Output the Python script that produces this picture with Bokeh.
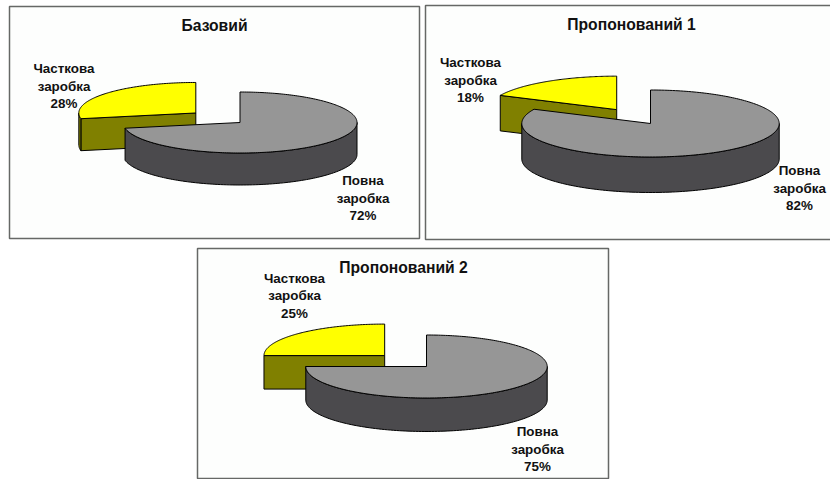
import numpy as np
from bokeh.core.properties import value
from bokeh.embed import file_html
from bokeh.models import Range1d
from bokeh.plotting import figure
from bokeh.resources import INLINE

# Share of full-time and part-time pay in each scenario, percent
titles = ["Базовий", "Пропонований 1", "Пропонований 2"]
full_pay = [72, 82, 75]
part_pay = [28, 18, 25]
full_label = ["Повна", "заробка"]
part_label = ["Часткова", "заробка"]

# Page layout of each panel, in screen pixels
panels = [
    dict(box=(9, 6, 419, 238), c=(239.5, 122), rx=117, ry=30.5, depth=32,
         title=(214, 25), part=(63.5, 68), full=(362.5, 180)),
    dict(box=(425, 5, 831, 239), c=(650, 123), rx=128.7, ry=33.5, depth=35.5,
         title=(631, 24), part=(470, 62), full=(799, 170)),
    dict(box=(197, 248, 608, 478), c=(426, 366), rx=120.7, ry=31.5, depth=33.5,
         title=(403, 266.5), part=(294, 277.5), full=(537, 431)),
]
EXPLODE = 0.49
TOP_FULL, WALL_FULL = "#969696", "#4b4a4d"
TOP_PART, WALL_PART = "#ffff00", "#808000"
TEXT_FONT = value("Liberation Sans")

p = figure(width=830, height=479, output_backend="svg", toolbar_location=None,
           x_range=Range1d(0, 830), y_range=Range1d(479, 0),
           min_border=0, outline_line_color=None, background_fill_color="white",
           border_fill_color="white")
p.axis.visible = False
p.grid.visible = False


def arc(cx, cy, rx, ry, a, b, n=120):
    """Ellipse points between two clockwise angles measured from 12 o'clock, in degrees."""
    t = np.radians(np.linspace(a, b, n))
    return cx + rx * np.sin(t), cy - ry * np.cos(t)


def draw_lines(x, y, lines, size):
    for i, line in enumerate(lines):
        p.text([x], [y + i * 17.6], text=[line], text_align="center", text_baseline="middle",
               text_font=TEXT_FONT, text_font_size=size, text_font_style="bold", text_color="#111111")


def draw_pie(panel, title, full, part):
    x0, y0, x1, y1 = panel["box"]
    p.patch([x0, x1, x1, x0], [y0, y0, y1, y1], fill_color="#fdfefd",
            line_color="#666866", line_width=1.5)

    cx, cy = panel["c"]
    rx, ry, depth = panel["rx"], panel["ry"], panel["depth"]
    split = 360 * full / (full + part)
    mid = np.radians((split + 360) / 2)
    px = cx + EXPLODE * rx * np.sin(mid)
    py = cy - EXPLODE * ry * np.cos(mid)

    # Detached slice: cut face, outer wall, then its top
    ex, ey = arc(px, py, rx, ry, split, split, 1)
    p.patch([ex[0], px, px, ex[0]], [ey[0], py, py + depth, ey[0] + depth],
            fill_color=WALL_PART, line_color="black", line_width=1)
    if split < 270:
        wx, wy = arc(px, py, rx, ry, split, 270, 20)
        p.patch(np.r_[wx, wx[::-1]], np.r_[wy, wy[::-1] + depth],
                fill_color=WALL_PART, line_color="black", line_width=1)
    ax, ay = arc(px, py, rx, ry, split, 360)
    p.patch(np.r_[px, ax], np.r_[py, ay], fill_color=TOP_PART, line_color="black", line_width=1)

    # Main slice: outer wall below its top
    wx, wy = arc(cx, cy, rx, ry, 90, min(split, 270))
    p.patch(np.r_[wx, wx[::-1]], np.r_[wy, wy[::-1] + depth],
            fill_color=WALL_FULL, line_color="black", line_width=1)
    ax, ay = arc(cx, cy, rx, ry, 0, split, 240)
    p.patch(np.r_[cx, ax], np.r_[cy, ay], fill_color=TOP_FULL, line_color="black", line_width=1)

    tx, ty = panel["title"]
    draw_lines(tx, ty, [title], "15.7px")
    lx, ly = panel["part"]
    draw_lines(lx, ly, part_label + [f"{part}%"], "13.4px")
    lx, ly = panel["full"]
    draw_lines(lx, ly, full_label + [f"{full}%"], "13.4px")


for panel, title, full, part in zip(panels, titles, full_pay, part_pay):
    draw_pie(panel, title, full, part)

open("out.html", "w").write(file_html(p, INLINE))
